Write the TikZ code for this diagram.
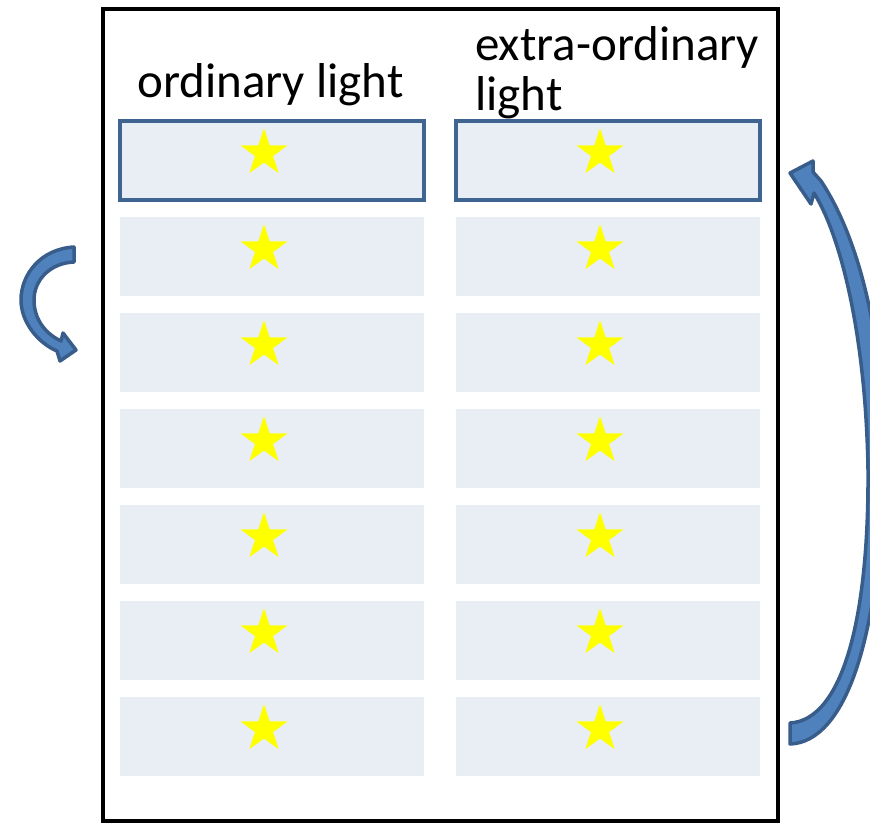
\documentclass[tikz,border=0pt]{standalone}
\usepackage{fontspec}
\setmainfont{Carlito}
\usetikzlibrary{shapes.geometric}
\definecolor{cellfill}{RGB}{233,238,245}
\definecolor{cellline}{RGB}{64,100,145}
\definecolor{arrowfill}{RGB}{79,129,189}
\definecolor{arrowline}{RGB}{56,93,138}
\definecolor{staryellow}{RGB}{255,255,0}
\tikzset{
  cell/.style={rectangle, fill=cellfill, draw=none, minimum width=304pt, minimum height=79pt, inner sep=0pt},
  topcell/.style={cell, draw=cellline, line width=4pt},
  starmark/.style={star, star points=5, star point ratio=2.618, fill=staryellow, draw=none, minimum size=50pt, inner sep=0pt},
  label/.style={anchor=base west, inner sep=0pt, font=\fontsize{49pt}{48pt}\selectfont, align=left},
  blockarrow/.style={fill=arrowfill, draw=arrowline, line width=3.5pt, line join=round},
}
\begin{document}
\begin{tikzpicture}[x=1pt, y=-1pt]
  \useasboundingbox (0,0) rectangle (870,823);
  % outer frame
  \draw[line width=4.5pt] (103,9) rectangle (778,821);
  % column headings
  \node[label] (hdL) at (137,97) {ordinary light};
  \node[label] (hdR) at (475,110) {extra-ordinary\\[2pt]light};
  % rows of cells with stars
  \foreach \k in {1,...,7} {
    \pgfmathsetmacro{\yc}{160.5+96*(\k-1)}
    \ifnum\k=1
      \node[topcell] (L\k) at (272,\yc) {};
      \node[topcell] (R\k) at (608,\yc) {};
    \else
      \node[cell] (L\k) at (272,\yc) {};
      \node[cell] (R\k) at (608,\yc) {};
    \fi
    \node[starmark, xshift=-8pt, yshift=7.5pt] (sL\k) at (L\k.center) {};
    \node[starmark, xshift=-8pt, yshift=7.5pt] (sR\k) at (R\k.center) {};
  }
  % short curved arrow on the left
  \draw[blockarrow]
    (74,247) .. controls (40,249) and (21,275) .. (21,300)
    .. controls (21,322) and (38,343) .. (57,351)
    -- (60,361) -- (76,350) -- (63,333) -- (61,341)
    .. controls (44,333) and (34,318) .. (34,300)
    .. controls (34,280) and (50,263) .. (74,262) -- cycle;
  % long curved arrow on the right, running out past the right edge
  \draw[blockarrow]
    (790,744) .. controls (845,742) and (880,640) .. (883,470)
    .. controls (886,330) and (855,232) .. (821,181)
    -- (813,172) -- (813,161) -- (790,173) -- (811,204) -- (814,193)
    .. controls (842,238) and (866,340) .. (868,470)
    .. controls (869,620) and (842,720) .. (790,723) -- cycle;
\end{tikzpicture}
\end{document}
